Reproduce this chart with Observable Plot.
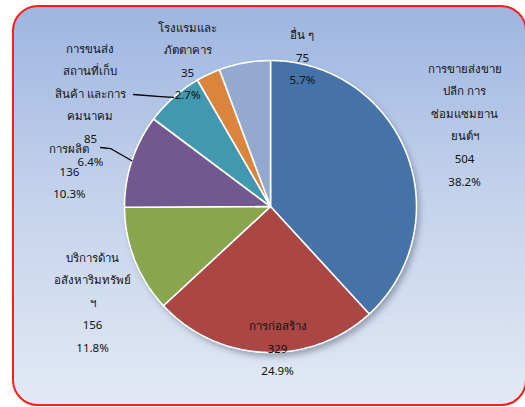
<!DOCTYPE html>
<html>
<head>
<meta charset="utf-8">
<script src="https://cdn.jsdelivr.net/npm/d3@7"></script>
<script src="https://cdn.jsdelivr.net/npm/@observablehq/plot@0.6"></script>
<style>
  html, body { margin: 0; padding: 0; background: #ffffff; }
  #wrap { position: relative; width: 525px; height: 407px; overflow: hidden; }
  #frame {
    position: absolute; left: 12px; top: 5px; width: 515px; height: 401px;
    box-sizing: border-box; border: 2px solid #ff1c1c; border-radius: 26px;
    background: linear-gradient(to bottom, #9db5e0 0%, #c2d1eb 45%, #e3e9f5 100%);
  }
  #chart { position: absolute; left: 0; top: 0; }
</style>
</head>
<body>
<div id="wrap"><div id="frame"></div><div id="chart"></div></div>
<script>
// ---- data ----
const categories = [
  "การขายส่งขาย\nปลีก การ\nซ่อมแซมยาน\nยนต์ฯ",
  "การก่อสร้าง",
  "บริการด้าน\nอสังหาริมทรัพย์\nฯ",
  "การผลิต",
  "การขนส่ง\nสถานที่เก็บ\nสินค้า และการ\nคมนาคม",
  "โรงแรมและ\nภัตตาคาร",
  "อื่น ๆ"
];
const values = [504, 329, 156, 136, 85, 35, 75];
const colors = ["#4572A7", "#AA4643", "#89A54E", "#71588F", "#4198AF", "#DB843D", "#93A9CF"];

// ---- layout (label anchors in pie-radius units, leader starts) ----
const labelPos = [
  [1.329, 0.579], [0.048, -0.952], [-1.219, -0.637], [-1.377, 0.260],
  [-1.233, 0.716], [-0.568, 1.014], [0.219, 1.041]
];
const leaders = { 3: [[-1.164, 0.404], [-1.096, 0.397]], 4: [[-0.938, 0.767], [-0.753, 0.753]] };

const total = d3.sum(values);
const pie = d3.pie().sort(null).value(d => d)(values);

const slicePts = [];
pie.forEach((p, i) => {
  const n = Math.max(2, Math.ceil((p.endAngle - p.startAngle) / (Math.PI / 180)));
  slicePts.push({k: i, x: 0, y: 0, c: colors[i]});
  for (let j = 0; j <= n; j++) {
    const a = p.startAngle + (p.endAngle - p.startAngle) * j / n;
    slicePts.push({k: i, x: Math.sin(a), y: Math.cos(a), c: colors[i]});
  }
  slicePts.push({k: i, x: 0, y: 0, c: colors[i]});
});
const shadowPts = d3.range(0, 361, 2).map(a => ({x: Math.sin(a * Math.PI / 180), y: Math.cos(a * Math.PI / 180)}));

const leaderPts = [];
Object.entries(leaders).forEach(([i, pts]) => {
  const p = pie[+i], m = (p.startAngle + p.endAngle) / 2;
  pts.forEach(([x, y]) => leaderPts.push({k: +i, x, y}));
  leaderPts.push({k: +i, x: Math.sin(m), y: Math.cos(m)});
});

const labels = categories.map((c, i) => ({
  text: c + "\n" + values[i] + "\n" + d3.format(".1f")(values[i] / total * 100) + "%",
  x: labelPos[i][0], y: labelPos[i][1]
}));

const chart = Plot.plot({
  width: 525, height: 407,
  margin: 0,
  style: {background: "transparent", overflow: "visible"},
  x: {domain: [-1, 1], range: [124, 416], axis: null},
  y: {domain: [-1, 1], range: [352, 60], axis: null},
  marks: [
    Plot.line(shadowPts, {x: "x", y: "y", fill: "#5a6478", fillOpacity: 0.55, stroke: "none", dx: 3, dy: 4}),
    Plot.line(slicePts, {x: "x", y: "y", z: "k", fill: "c", stroke: "#ffffff", strokeWidth: 1.6, strokeLinejoin: "round"}),
    Plot.line(leaderPts, {x: "x", y: "y", z: "k", stroke: "#000000", strokeWidth: 1.3}),
    Plot.text(labels, {x: "x", y: "y", text: "text", fontSize: 11.5, lineHeight: 1.96, fill: "#111111", textAnchor: "middle", lineAnchor: "middle"})
  ]
});

// soft shadow filter
const svg = d3.select(chart);
const defs = svg.insert("defs", ":first-child");
defs.append("filter").attr("id", "pieShadow").attr("x", "-20%").attr("y", "-20%").attr("width", "140%").attr("height", "140%")
  .append("feGaussianBlur").attr("stdDeviation", 3);
svg.select('g[aria-label="line"]').attr("filter", "url(#pieShadow)");

document.getElementById("chart").appendChild(chart);
</script>
</body>
</html>
